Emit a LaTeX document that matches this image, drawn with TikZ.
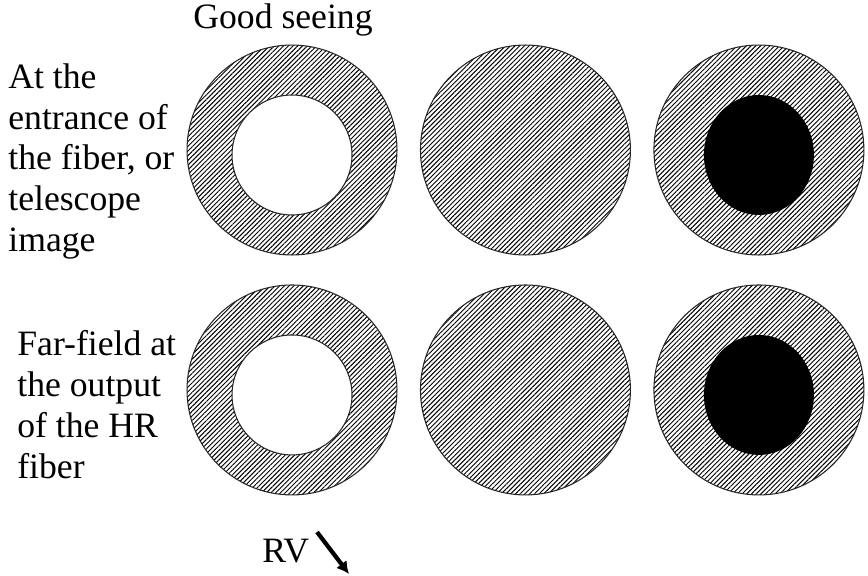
\documentclass[tikz,border=0pt]{standalone}
\usepackage{fontspec}
\setmainfont{Liberation Serif}
\usepackage{tikz}
\usetikzlibrary{shapes.geometric, arrows.meta, positioning, patterns.meta}
\tikzstyle{disc} = [circle, minimum size=4.2cm, inner sep=0pt, outer sep=0pt, draw=black!85, line width=0.6pt, pattern={Lines[angle=45, distance=1.9pt, line width=0.55pt]}]
\tikzstyle{hole} = [circle, minimum size=2.4cm, inner sep=0pt, draw=black!85, line width=0.6pt, fill=white]
\tikzstyle{core} = [ellipse, minimum width=2.2cm, minimum height=2.4cm, inner sep=0pt, fill=black]
\tikzstyle{label} = [align=left, inner sep=0pt, font=\fontsize{20.3}{23.3}\selectfont]
\tikzstyle{arrow} = [line width=2.4pt, -{Latex[length=7pt, width=7.5pt]}]

\begin{document}
\begin{tikzpicture}[x=0.02cm, y=-0.02cm, node distance=0.5cm]
        \useasboundingbox (0,0) rectangle (868,575);
        % top row: entrance of the fiber
        \node (ring1) [disc] at (292,150) {};
        \node (full1) [disc, right=0.47cm of ring1] {};
        \node (dark1) [disc, right=0.47cm of full1] {};
        \node (hole1) [hole, yshift=-0.1cm] at (ring1.center) {};
        \node (core1) [core, yshift=-0.1cm] at (dark1.center) {};
        % bottom row: far-field
        \node (ring2) [disc, below=0.6cm of ring1] {};
        \node (full2) [disc, below=0.6cm of full1] {};
        \node (dark2) [disc, below=0.6cm of dark1] {};
        \node (hole2) [hole, yshift=-0.1cm] at (ring2.center) {};
        \node (core2) [core, yshift=-0.1cm] at (dark2.center) {};

        \node (seeing) [label, anchor=base west] at (193,28) {Good seeing};
        \node (entrance) [label, anchor=north west] at (8,63) {At the\\entrance of\\the fiber, or\\telescope\\image};
        \node (farfield) [label, anchor=north west] at (17,330) {Far-field at\\the output\\of the HR\\fiber};
        \node (rv) [label, anchor=base west] at (262,562) {RV};

        \coordinate (rvtail) at (317,532);
        \coordinate (rvtip) at (349,574);
        \draw [arrow] (rvtail) -- (rvtip);
    \end{tikzpicture}
\end{document}
